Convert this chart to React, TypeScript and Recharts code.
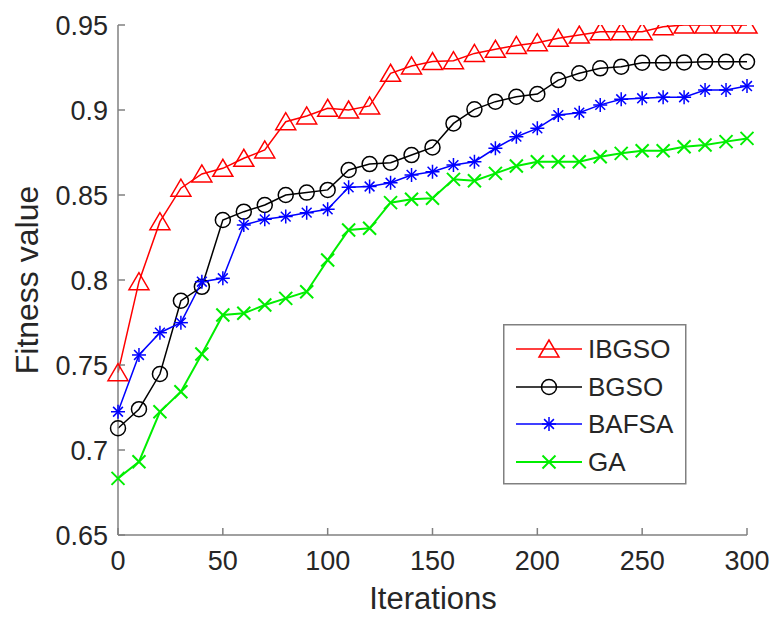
import React from "react";
import { LineChart, Line, XAxis, YAxis, Legend, Label } from "recharts";

const iterations = [
  0, 10, 20, 30, 40, 50, 60, 70, 80, 90, 100, 110, 120, 130, 140, 150, 160,
  170, 180, 190, 200, 210, 220, 230, 240, 250, 260, 270, 280, 290, 300,
];

const ibgso = [
  0.7455, 0.799, 0.8343, 0.854, 0.8624, 0.8657, 0.8716, 0.8765, 0.8931,
  0.8965, 0.901, 0.9, 0.9024, 0.9216, 0.9259, 0.9285, 0.929, 0.9333, 0.9357,
  0.938, 0.9396, 0.9422, 0.9441, 0.946, 0.946, 0.946, 0.949, 0.95, 0.95,
  0.95, 0.95,
];

const bgso = [
  0.7128, 0.724, 0.7447, 0.7878, 0.796, 0.8353, 0.8402, 0.8441, 0.85, 0.8514,
  0.853, 0.8647, 0.8682, 0.869, 0.8735, 0.878, 0.8921, 0.9004, 0.9049,
  0.9078, 0.9094, 0.9176, 0.9216, 0.9245, 0.9255, 0.9278, 0.9278, 0.928,
  0.9284, 0.9284, 0.9284,
];

const bafsa = [
  0.7225, 0.7559, 0.769, 0.7749, 0.799, 0.801, 0.8324, 0.8357, 0.8373,
  0.8396, 0.8416, 0.8545, 0.855, 0.8572, 0.8618, 0.8637, 0.8676, 0.8696,
  0.8775, 0.8843, 0.8892, 0.897, 0.8984, 0.903, 0.9063, 0.9069, 0.9075,
  0.9075, 0.9118, 0.9118, 0.9141,
];

const ga = [
  0.6833, 0.6931, 0.7225, 0.7343, 0.7565, 0.7794, 0.7804, 0.7853, 0.7892,
  0.7931, 0.8118, 0.8294, 0.8304, 0.8455, 0.8475, 0.8481, 0.8592, 0.8584,
  0.8627, 0.8671, 0.8696, 0.8696, 0.8696, 0.8725, 0.8745, 0.876, 0.876,
  0.8784, 0.8794, 0.8814, 0.8833,
];

const xTicks = [0, 50, 100, 150, 200, 250, 300];
const yTicks = [0.65, 0.7, 0.75, 0.8, 0.85, 0.9, 0.95];

const data = iterations.map((it, i) => ({
  it,
  IBGSO: ibgso[i],
  BGSO: bgso[i],
  BAFSA: bafsa[i],
  GA: ga[i],
}));

const FONT = "'Liberation Sans', Arial, Helvetica, sans-serif";
const TEXT = "#262626";
const AXIS = "#808080";

function Triangle({ cx, cy, color }: any) {
  return (
    <polygon
      points={`${cx},${cy - 9} ${cx - 10},${cy + 8} ${cx + 10},${cy + 8}`}
      fill="none"
      stroke={color}
      strokeWidth={1.5}
    />
  );
}

function Circle({ cx, cy, color }: any) {
  return <circle cx={cx} cy={cy} r={7.5} fill="none" stroke={color} strokeWidth={1.5} />;
}

function Star({ cx, cy, color }: any) {
  const r = 7;
  const d = r * 0.7;
  return (
    <g stroke={color} strokeWidth={1.5}>
      <line x1={cx} y1={cy - r} x2={cx} y2={cy + r} />
      <line x1={cx - r} y1={cy} x2={cx + r} y2={cy} />
      <line x1={cx - d} y1={cy - d} x2={cx + d} y2={cy + d} />
      <line x1={cx - d} y1={cy + d} x2={cx + d} y2={cy - d} />
    </g>
  );
}

function Cross({ cx, cy, color }: any) {
  const r = 6.5;
  return (
    <g stroke={color} strokeWidth={2}>
      <line x1={cx - r} y1={cy - r} x2={cx + r} y2={cy + r} />
      <line x1={cx - r} y1={cy + r} x2={cx + r} y2={cy - r} />
    </g>
  );
}

const seriesList = [
  { key: "IBGSO", color: "#ff0000", Marker: Triangle, width: 1.5 },
  { key: "BGSO", color: "#000000", Marker: Circle, width: 1.5 },
  { key: "BAFSA", color: "#0000ff", Marker: Star, width: 1.5 },
  { key: "GA", color: "#00ee00", Marker: Cross, width: 2 },
];

function LegendBox() {
  const rows = [25, 63, 100, 138];
  return (
    <svg width={184} height={161} style={{ display: "block" }}>
      <rect x={0.75} y={0.75} width={182} height={159} fill="#fff" stroke={AXIS} strokeWidth={1.5} />
      {seriesList.map((s, i) => {
        const M = s.Marker;
        return (
          <g key={s.key}>
            <line x1={13} y1={rows[i]} x2={79} y2={rows[i]} stroke={s.color} strokeWidth={s.width} />
            <M cx={46} cy={rows[i]} color={s.color} />
            <text x={85} y={rows[i] + 9} fontSize={26} fontFamily={FONT} fill={TEXT}>
              {s.key}
            </text>
          </g>
        );
      })}
    </svg>
  );
}

export default function App() {
  // fixed so the page gets no scrollbar from the body margin
  return (
    <div style={{ position: "fixed", left: 0, top: 0, background: "#fff" }}>
      <LineChart
        width={772}
        height={617}
        data={data}
        margin={{ top: 25, right: 25, bottom: 0, left: 0 }}
        style={{ fontFamily: FONT }}
      >
        <XAxis
          dataKey="it"
          type="number"
          domain={[0, 300]}
          ticks={xTicks}
          height={82}
          stroke={AXIS}
          strokeWidth={1.5}
          tickSize={-7}
          tickMargin={23}
          tick={{ fill: TEXT, fontSize: 27, fontFamily: FONT }}
        >
          <Label
            content={() => (
              <text x={433} y={609} textAnchor="middle" fontSize={31} fontFamily={FONT} fill={TEXT}>
                Iterations
              </text>
            )}
          />
        </XAxis>
        <YAxis
          type="number"
          domain={[0.65, 0.95]}
          ticks={yTicks}
          width={118}
          stroke={AXIS}
          strokeWidth={1.5}
          tickSize={-7}
          tickMargin={17}
          allowDataOverflow
          tick={{ fill: TEXT, fontSize: 27, fontFamily: FONT }}
        >
          <Label
            content={() => (
              <text
                x={38}
                y={280}
                transform="rotate(-90 38 280)"
                textAnchor="middle"
                fontSize={32}
                fontFamily={FONT}
                fill={TEXT}
              >
                Fitness value
              </text>
            )}
          />
        </YAxis>
        {seriesList.map((s) => {
          const M = s.Marker;
          return (
            <Line
              key={s.key}
              dataKey={s.key}
              stroke={s.color}
              strokeWidth={s.width}
              isAnimationActive={false}
              activeDot={false}
              dot={(p: any) => <M key={`${s.key}-${p.index}`} cx={p.cx} cy={p.cy} color={s.color} />}
            />
          );
        })}
        <Legend
          layout="vertical"
          align="center"
          verticalAlign="middle"
          content={() => <LegendBox />}
          wrapperStyle={{ position: "absolute", left: 503, top: 324, width: 184, height: 161 }}
        />
      </LineChart>
    </div>
  );
}
